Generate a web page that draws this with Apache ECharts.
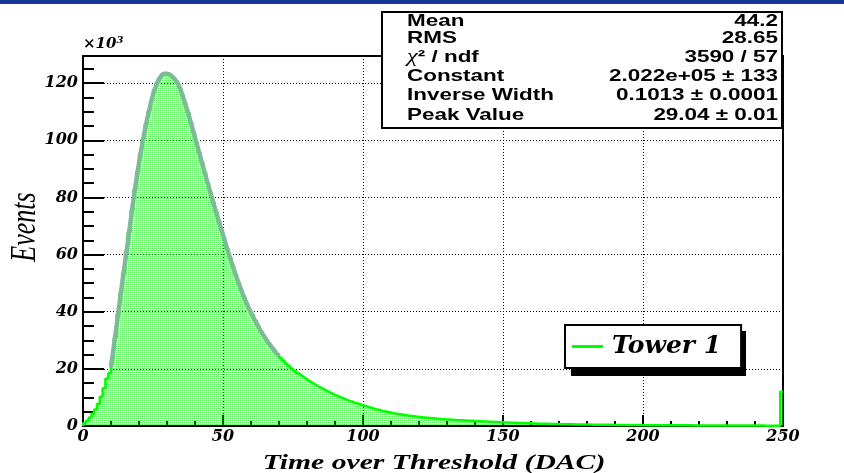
<!DOCTYPE html>
<html><head><meta charset="utf-8">
<script src="https://cdn.jsdelivr.net/npm/echarts@6/dist/echarts.min.js"></script>
<style>html,body{margin:0;padding:0;background:#fff}#c{width:844px;height:473px}</style>
</head><body><div id="c"></div>
<script>
// ---- data (counts in units of 10^3, one bin per DAC count, bins 0..249) ----
const histCounts = [
  1.0, 1.8, 3.0, 4.3, 5.8, 7.7, 10.2, 13.2, 16.5, 18.5,
  23.5, 31, 39, 46.5, 53.5, 60.5, 68, 75.5, 82.5, 89,
  95, 100.5, 105.5, 110, 114, 117.5, 120.2, 122, 123.1, 123.4,
  123.2, 122.6, 121.5, 120.6, 118.5, 115.8, 112.8, 109.6, 106.2, 102.7,
  99.1, 95.6, 92.1, 88.6, 85.1, 81.7, 78.3, 75, 71.7, 68.4,
  65.2, 62, 58.9, 55.9, 53, 50.2, 47.6, 45.1, 42.8, 40.6,
  38.9, 36.9, 35.0, 33.2, 31.6, 30.1, 28.7, 27.4, 26.2, 25.0,
  23.9, 22.9, 21.9, 21.0, 20.1, 19.3, 18.5, 17.8, 17.1, 16.4,
  15.7, 15.1, 14.5, 13.9, 13.4, 12.9, 12.4, 11.9, 11.4, 10.9,
  10.5, 10.1, 9.7, 9.3, 8.9, 8.6, 8.2, 7.9, 7.6, 7.3,
  7.0, 6.7, 6.4, 6.1, 5.8, 5.6, 5.3, 5.1, 4.9, 4.7,
  4.5, 4.3, 4.15, 4.0, 3.85, 3.7, 3.55, 3.45, 3.3, 3.2,
  3.1, 3.0, 2.9, 2.8, 2.7, 2.6, 2.55, 2.45, 2.4, 2.3,
  2.25, 2.2, 2.1, 2.05, 2.0, 1.95, 1.9, 1.85, 1.8, 1.75,
  1.7, 1.65, 1.6, 1.55, 1.5, 1.45, 1.4, 1.37, 1.33, 1.3,
  1.26, 1.22, 1.18, 1.14, 1.1, 1.06, 1.02, 0.98, 0.95, 0.92,
  0.89, 0.86, 0.83, 0.8, 0.78, 0.75, 0.73, 0.71, 0.69, 0.67,
  0.65, 0.63, 0.61, 0.6, 0.58, 0.56, 0.55, 0.53, 0.52, 0.5,
  0.49, 0.48, 0.46, 0.45, 0.44, 0.43, 0.42, 0.41, 0.4, 0.39,
  0.38, 0.37, 0.36, 0.35, 0.35, 0.34, 0.33, 0.32, 0.32, 0.31,
  0.3, 0.29, 0.29, 0.28, 0.28, 0.27, 0.27, 0.26, 0.26, 0.25,
  0.25, 0.24, 0.24, 0.23, 0.23, 0.22, 0.22, 0.22, 0.21, 0.21,
  0.2, 0.2, 0.2, 0.19, 0.19, 0.19, 0.18, 0.18, 0.18, 0.17,
  0.17, 0.17, 0.16, 0.16, 0.16, 0.15, 0.15, 0.15, 0.15, 0.14,
  0.14, 0.14, 0.14, 0.13, 0.13, 0.13, 0.13, 0.12, 0.12, 12.0
];
const binStart = 0;
const binWidth = 1;
const fitX = [10,12,14,16,18,20,22,24,26,28,29,30,32,34,36,38,40,42,44,46,48,50,52,54,56,58,60,62,64,66,68,70];
const fitY = [20.5,35,50,64.2,79,92,103,112,118.9,122.6,123.3,123.3,122.1,119.6,114.3,107.9,100.9,93.8,86.8,80,73.3,66.8,60.4,54.4,48.9,43.9,39.6,35.9,32.4,29.4,26.8,24.4];
const xRange = [0, 250];
const yRange = [0, 129.5];
const seriesName = 'Tower 1';
const xTitle = 'Time over Threshold (DAC)';
const yTitle = 'Events';
const yUnit = '×10{s|3}';
const statLabels = ['Mean', 'RMS', '{c|χ}{n|² / ndf}', 'Constant', 'Inverse Width', 'Peak Value'];
const statValues = ['44.2', '28.65', '3590 / 57', '2.022e+05 ± 133', '0.1013 ± 0.0001', '29.04 ± 0.01'];

// ---- build ----
const histData = [[binStart, 0]];
histCounts.forEach((v, i) => histData.push([binStart + i * binWidth, v]));
histData.push([binStart + histCounts.length * binWidth, histCounts[histCounts.length - 1]]);
const fitData = fitX.map((x, i) => [x, fitY[i]]);

const pc = document.createElement('canvas');
pc.width = 2; pc.height = 2;
const g = pc.getContext('2d');
g.fillStyle = 'rgba(0,230,0,0.62)'; g.fillRect(0, 0, 1, 1);
g.fillStyle = 'rgba(0,230,0,0.30)'; g.fillRect(1, 0, 1, 1);
g.fillStyle = 'rgba(0,230,0,0.12)'; g.fillRect(0, 1, 1, 1);

const tickFont = {fontFamily: 'DejaVu Serif', fontWeight: 'bold', fontStyle: 'italic', fontSize: 16, color: '#000'};
const statFont = 'bold 16.5px "Liberation Sans"';

const statRowY = [21, 38.5, 57, 76, 95.5, 115];
const statGraphics = [{
  type: 'rect', z: 100,
  shape: {x: 382, y: 12, width: 400, height: 116},
  style: {fill: '#fff', stroke: '#000', lineWidth: 2}
}];
statLabels.forEach((t, i) => {
  statGraphics.push({type: 'text', z: 101, x: 407, y: statRowY[i], scaleX: 1.36,
    style: {text: t, font: statFont, fill: '#000', align: 'left', verticalAlign: 'middle',
      rich: {c: {font: 'italic 18px "Liberation Serif"', fill: '#000'}, n: {font: statFont, fill: '#000'}}}});
  statGraphics.push({type: 'text', z: 101, x: 778, y: statRowY[i], scaleX: 1.36,
    style: {text: statValues[i], font: statFont, fill: '#000', align: 'right', verticalAlign: 'middle'}});
});

const titleGraphics = [
  {type: 'text', z: 100, x: 434, y: 463, scaleX: 1.38,
    style: {text: xTitle, font: 'italic bold 21.5px "Liberation Serif"', fill: '#000', align: 'center', verticalAlign: 'middle'}},
  {type: 'text', z: 100, x: 25, y: 227, rotation: Math.PI / 2, scaleY: 1.4,
    style: {text: yTitle, font: 'italic 26px "Liberation Serif"', fill: '#000', align: 'center', verticalAlign: 'middle'}},
  {type: 'rect', z: 9, shape: {x: 571, y: 331, width: 175, height: 45}, style: {fill: '#000'}}
];

const chart = echarts.init(document.getElementById('c'));
chart.setOption({
  animation: false,
  backgroundColor: '#fff',
  grid: {left: 83, top: 56, width: 700, height: 370, show: true, borderColor: '#000', borderWidth: 2, backgroundColor: '#fff'},
  xAxis: {
    type: 'value', min: xRange[0], max: xRange[1], interval: 50,
    axisLine: {lineStyle: {color: '#000', width: 2}},
    axisTick: {inside: true, length: 11, lineStyle: {color: '#000', width: 2}},
    minorTick: {show: true, splitNumber: 5, length: 5, lineStyle: {color: '#000', width: 2}},
    splitLine: {show: true, lineStyle: {color: '#000', width: 1, type: [1, 2]}},
    axisLabel: Object.assign({margin: 3}, tickFont)
  },
  yAxis: [{
    type: 'value', min: yRange[0], max: yRange[1], interval: 20,
    name: yUnit, nameLocation: 'end', nameGap: 2,
    nameTextStyle: {align: 'left', verticalAlign: 'bottom', fontFamily: 'DejaVu Serif', fontWeight: 'bold', fontStyle: 'italic', fontSize: 15, color: '#000',
      rich: {s: {fontFamily: 'DejaVu Serif', fontWeight: 'bold', fontStyle: 'italic', fontSize: 10, verticalAlign: 'top', padding: [0, 0, 9, 0]}}},
    axisLine: {onZero: false, lineStyle: {color: '#000', width: 2}},
    axisTick: {inside: true, length: 21, lineStyle: {color: '#000', width: 2}},
    splitLine: {show: true, lineStyle: {color: '#000', width: 1, type: [1, 2]}},
    axisLabel: Object.assign({margin: 5, showMaxLabel: false}, tickFont)
  }, {
    type: 'value', min: yRange[0], max: yRange[1], interval: 5, position: 'left',
    axisLine: {show: false},
    axisTick: {inside: true, length: 11, lineStyle: {color: '#000', width: 2}},
    splitLine: {show: false},
    axisLabel: {show: false}
  }],
  legend: {
    data: [seriesName], left: 565, top: 325, icon: 'rect', itemWidth: 31, itemHeight: 3, z: 10,
    padding: [9, 20, 9, 7],
    backgroundColor: '#fff', borderColor: '#000', borderWidth: 2,
    itemStyle: {borderWidth: 0},
    textStyle: {fontFamily: 'DejaVu Serif', fontWeight: 'bold', fontStyle: 'italic', fontSize: 25, color: '#000', padding: [0, 0, 0, 4]}
  },
  series: [{
    name: seriesName, type: 'line', step: 'end', data: histData, symbol: 'none',
    itemStyle: {color: '#00ff00'},
    lineStyle: {color: '#00ff00', width: 2.5},
    areaStyle: {color: {image: pc, repeat: 'repeat'}, opacity: 1},
    z: 2
  }, {
    name: 'fit', type: 'line', smooth: true, data: fitData, symbol: 'none',
    itemStyle: {color: '#7fba98'},
    lineStyle: {color: '#7fba98', width: 4.5},
    z: 3
  }],
  graphic: [{type: 'rect', z: 100, shape: {x: 0, y: 0, width: 844, height: 4}, style: {fill: '#17389a'}}].concat(statGraphics, titleGraphics)
});
</script></body></html>
